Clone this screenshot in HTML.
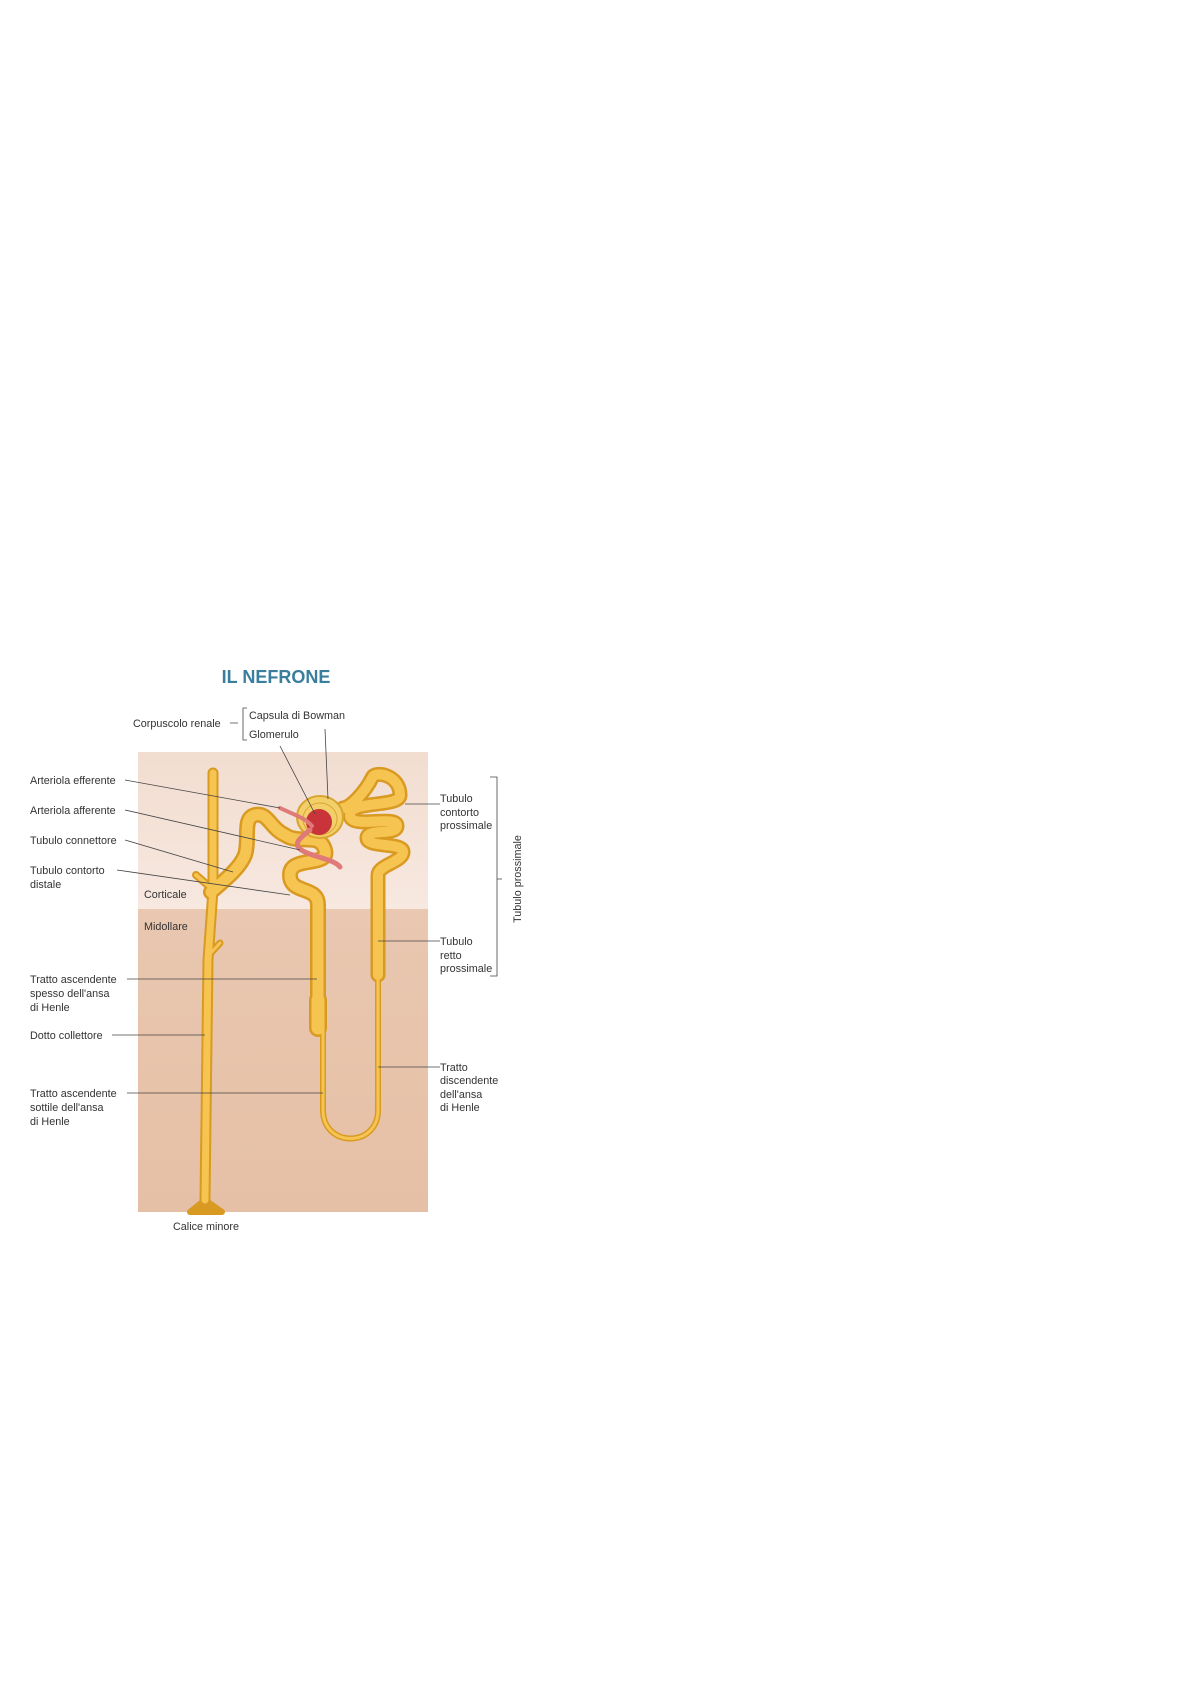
<!DOCTYPE html>
<html><head><meta charset="utf-8"><style>
html,body{margin:0;padding:0;background:#fff;}
body{width:1190px;height:1684px;position:relative;overflow:hidden;}
svg{position:absolute;left:0;top:0;}
text{font-family:"Liberation Sans",sans-serif;font-size:10.8px;fill:#333;}
</style></head><body>
<svg width="1190" height="1684" viewBox="0 0 1190 1684">
<defs>
<linearGradient id="cx" x1="0" y1="0" x2="0" y2="1"><stop offset="0" stop-color="#f2ddd0"/><stop offset="1" stop-color="#f7e8e0"/></linearGradient>
<linearGradient id="md" x1="0" y1="0" x2="0" y2="1"><stop offset="0" stop-color="#e9c7b0"/><stop offset="1" stop-color="#e6c0a6"/></linearGradient>
</defs>
<text x="276" y="683" text-anchor="middle" style="font-size:18px;font-weight:bold;fill:#3a7e9e">IL NEFRONE</text>
<!-- panel -->
<rect x="138" y="752" width="290" height="157" fill="url(#cx)"/>
<rect x="138" y="909" width="290" height="303" fill="url(#md)"/>
<!-- tubes outline -->
<g fill="none" stroke-linecap="round" stroke-linejoin="round">
<g stroke="#d99a22">
<path d="M213,773 L213,890 L208,960 L205,1200" stroke-width="11"/>
<path d="M205,1200 L190,1212 L222,1212 Z" stroke-width="6" fill="#d99a22"/>
<path d="M211,888 L196,875" stroke-width="8"/>
<path d="M209,955 L220,943" stroke-width="7"/>
<path d="M318,1028 L318,905 C318,885 290,895 290,875 C290,855 330,868 325,850 C320,832 300,845 285,835 C270,828 268,812 255,815 C242,818 250,840 245,855 C240,868 225,880 211,892" stroke-width="16"/>
<path d="M318,1028 L318,1000" stroke-width="18"/>
<path d="M323,1028 L323,1110 C323,1148 378,1148 378,1110 L378,975" stroke-width="6"/>
<path d="M378,975 L378,875 C378,865 403,862 403,852 C403,842 367,848 367,838 C367,828 397,836 397,826 C397,814 350,830 350,815 C350,800 400,808 400,795 C400,775 375,770 372,778 C365,792 350,808 343,808" stroke-width="15"/>
</g>
<g stroke="#f6c450">
<path d="M213,773 L213,890 L208,960 L205,1200" stroke-width="7"/>
<path d="M211,888 L196,875" stroke-width="4"/>
<path d="M209,955 L220,943" stroke-width="3"/>
<path d="M318,1028 L318,905 C318,885 290,895 290,875 C290,855 330,868 325,850 C320,832 300,845 285,835 C270,828 268,812 255,815 C242,818 250,840 245,855 C240,868 225,880 211,892" stroke-width="11"/>
<path d="M318,1028 L318,1000" stroke-width="13"/>
<path d="M323,1028 L323,1110 C323,1148 378,1148 378,1110 L378,975" stroke-width="3"/>
<path d="M378,975 L378,875 C378,865 403,862 403,852 C403,842 367,848 367,838 C367,828 397,836 397,826 C397,814 350,830 350,815 C350,800 400,808 400,795 C400,775 375,770 372,778 C365,792 350,808 343,808" stroke-width="10"/>
</g>
</g>
<!-- capsule & glomerulus -->
<ellipse cx="320" cy="817" rx="23" ry="21" fill="#f3cf6a" stroke="#d9a530" stroke-width="2"/>
<ellipse cx="320" cy="819" rx="17" ry="16" fill="none" stroke="#d9a530" stroke-width="1"/>
<circle cx="319" cy="822" r="13" fill="#c9333a"/>
<path d="M280,808 C295,815 305,818 312,826" stroke="#e07a78" stroke-width="4" fill="none" stroke-linecap="round"/>
<path d="M310,830 C300,838 290,845 305,852 C318,858 335,860 340,867" stroke="#e07a78" stroke-width="5" fill="none" stroke-linecap="round"/>
<g transform="translate(0,-6)">
<!-- leader lines -->
<g stroke="#444" stroke-width="0.8" fill="none">
<path d="M125,786 L280,814"/>
<path d="M125,816 L300,856"/>
<path d="M125,846 L233,878"/>
<path d="M117,876 L290,901"/>
<path d="M127,985 L317,985"/>
<path d="M112,1041 L205,1041"/>
<path d="M127,1099 L323,1099"/>
<path d="M405,810 L440,810"/>
<path d="M378,947 L440,947"/>
<path d="M378,1073 L440,1073"/>
<path d="M230,729 L238,729 M247,714 L243,714 L243,746 L247,746"/>
<path d="M325,735 L328,805"/>
<path d="M280,752 L315,820"/>
<path d="M490,783 L497,783 L497,982 L490,982 M497,885 L502,885"/>
</g>
<!-- labels -->
<text x="133" y="733">Corpuscolo renale</text>
<text x="249" y="725">Capsula di Bowman</text>
<text x="249" y="744">Glomerulo</text>
<text x="30" y="790">Arteriola efferente</text>
<text x="30" y="820">Arteriola afferente</text>
<text x="30" y="850">Tubulo connettore</text>
<text x="30" y="880">Tubulo contorto</text>
<text x="30" y="894">distale</text>
<text x="144" y="904">Corticale</text>
<text x="144" y="936">Midollare</text>
<text x="30" y="989">Tratto ascendente</text>
<text x="30" y="1003">spesso dell'ansa</text>
<text x="30" y="1017">di Henle</text>
<text x="30" y="1045">Dotto collettore</text>
<text x="30" y="1103">Tratto ascendente</text>
<text x="30" y="1117">sottile dell'ansa</text>
<text x="30" y="1131">di Henle</text>
<text x="173" y="1236">Calice minore</text>
<text x="440" y="808">Tubulo</text>
<text x="440" y="822">contorto</text>
<text x="440" y="835">prossimale</text>
<text x="440" y="951">Tubulo</text>
<text x="440" y="965">retto</text>
<text x="440" y="978">prossimale</text>
<text x="440" y="1077">Tratto</text>
<text x="440" y="1090">discendente</text>
<text x="440" y="1104">dell'ansa</text>
<text x="440" y="1117">di Henle</text>
<text x="0" y="0" transform="translate(521,885) rotate(-90)" text-anchor="middle">Tubulo prossimale</text>
</g>
</svg>
</body></html>
